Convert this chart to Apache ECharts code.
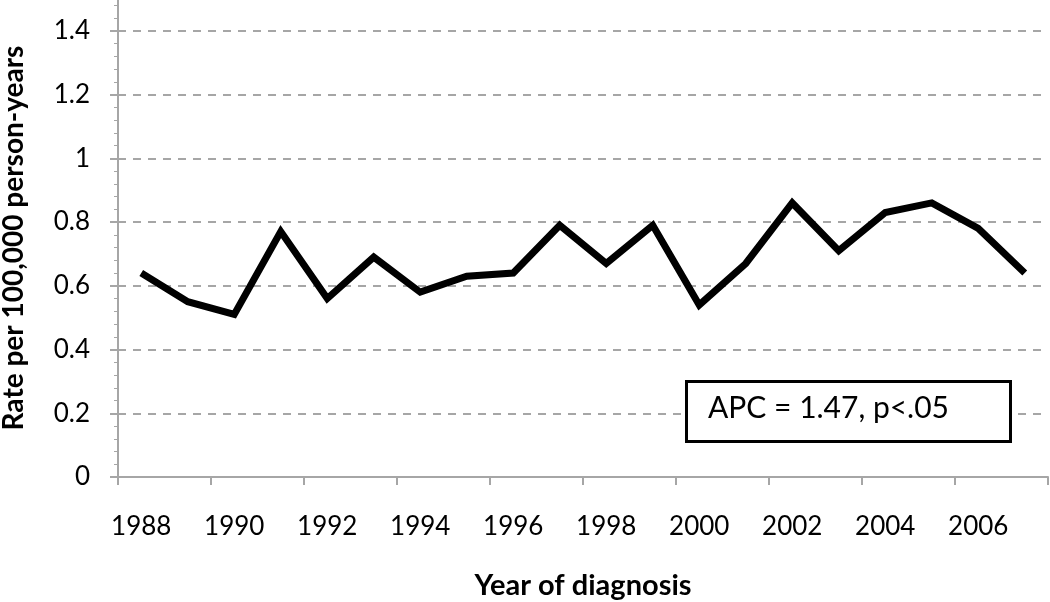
<!DOCTYPE html>
<html>
<head>
<meta charset="utf-8">
<script src="https://cdn.jsdelivr.net/npm/echarts@6/dist/echarts.min.js"></script>
<style>
  html, body { margin: 0; padding: 0; background: #fff; }
  #chart { width: 1050px; height: 602px; }
</style>
</head>
<body>
<div id="chart"></div>
<script>
const years = ['1988', '1989', '1990', '1991', '1992', '1993', '1994', '1995', '1996', '1997',
  '1998', '1999', '2000', '2001', '2002', '2003', '2004', '2005', '2006', '2007'];
const rates = [0.64, 0.55, 0.51, 0.77, 0.56, 0.69, 0.58, 0.63, 0.64, 0.79,
  0.67, 0.79, 0.54, 0.67, 0.86, 0.71, 0.83, 0.86, 0.78, 0.64];
const apcLabel = 'APC = 1.47, p<.05';

const FONT = 'Lato, "Open Sans", sans-serif';
const axisGrey = '#a6a6a6';

const chart = echarts.init(document.getElementById('chart'), null, { renderer: 'canvas' });

chart.setOption({
  backgroundColor: '#fff',
  animation: false,
  grid: { left: 118, right: 2, top: -1, bottom: 125, outerBoundsMode: 'none', containLabel: false },
  xAxis: {
    type: 'category',
    data: years,
    boundaryGap: true,
    name: 'Year of diagnosis',
    nameLocation: 'middle',
    nameGap: 94,
    nameTextStyle: { fontFamily: FONT, fontSize: 29, fontWeight: 'bold', color: '#000' },
    axisLine: { lineStyle: { color: axisGrey, width: 2 } },
    axisTick: { show: true, interval: 1, length: 8, lineStyle: { color: axisGrey, width: 2 } },
    axisLabel: { interval: 1, margin: 37, fontFamily: FONT, fontSize: 26, color: '#000' },
    splitLine: { show: false }
  },
  yAxis: {
    type: 'value',
    min: 0,
    max: 1.5,
    interval: 0.2,
    name: 'Rate per 100,000 person-years',
    nameLocation: 'middle',
    nameGap: 90,
    nameRotate: 90,
    nameTextStyle: { fontFamily: FONT, fontSize: 28, fontWeight: 'bold', color: '#000' },
    axisLine: { show: true, lineStyle: { color: axisGrey, width: 2 } },
    axisTick: { show: true, length: 8, lineStyle: { color: axisGrey, width: 2 } },
    minorTick: { show: true, splitNumber: 5, length: 4, lineStyle: { color: axisGrey, width: 1 } },
    axisLabel: {
      margin: 28, fontFamily: FONT, fontSize: 26, color: '#000', showMaxLabel: false,
      formatter: (v) => String(Math.round(v * 10) / 10)
    },
    splitLine: { show: true, lineStyle: { color: '#a6a6a6', width: 2, type: [8, 7] } }
  },
  series: [{
    type: 'line',
    data: rates,
    showSymbol: false,
    smooth: false,
    lineStyle: { color: '#000', width: 7, join: 'miter' },
    itemStyle: { color: '#000' }
  }],
  graphic: [{
    type: 'rect',
    left: 685,
    top: 380,
    shape: { width: 324, height: 60 },
    style: { fill: '#fff', stroke: '#000', lineWidth: 3 },
    z: 10
  }, {
    type: 'text',
    left: 708,
    top: 393,
    style: { text: apcLabel, font: '30px ' + FONT, fill: '#000' },
    z: 11
  }]
});
</script>
</body>
</html>
